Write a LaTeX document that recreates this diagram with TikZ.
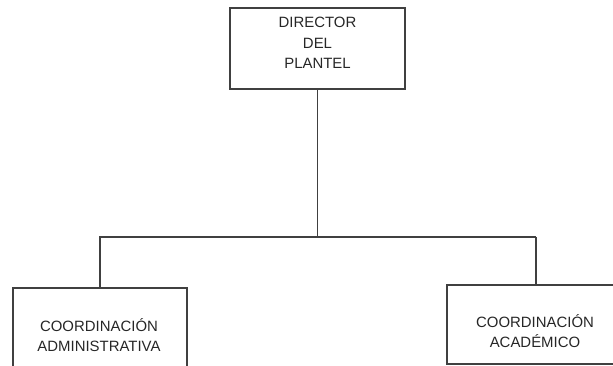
\documentclass[tikz,border=0pt]{standalone}
\usepackage{fontspec}
\setmainfont{Liberation Sans}
\begin{document}
\begin{tikzpicture}[x=0.75pt,y=-0.75pt,
  line/.style={draw=black!75,line width=0.8pt},
  box/.style={line,rectangle,inner sep=0pt},
  lbl/.style={align=center,font=\fontsize{11.2pt}{15.5pt}\selectfont,text=black!85,inner sep=0pt}]
\useasboundingbox (0,0) rectangle (613,366);
\clip (0,0) rectangle (613,366);
\node[box,minimum width=131.25pt,minimum height=60.75pt] (dir) at (317.5,48.5) {};
\node[lbl] (dirt) at (317.5,43) {DIRECTOR\\DEL\\PLANTEL};
\node[box,minimum width=130.5pt,minimum height=75pt] (adm) at (100,338) {};
\node[lbl] (admt) at (99,335) {COORDINACIÓN\\ADMINISTRATIVA};
\node[box,minimum width=141pt,minimum height=59.25pt] (aca) at (541,324.5) {};
\node[lbl] (acat) at (535,331) {COORDINACIÓN\\ACADÉMICO};
\coordinate (j) at (317.5,237);
\coordinate (r) at (536,237);
\draw[line] (dir.south) -- (j);
\draw[line] (adm.north) |- (r);
\draw[line] (r) -- (r |- aca.north);
\end{tikzpicture}
\end{document}
